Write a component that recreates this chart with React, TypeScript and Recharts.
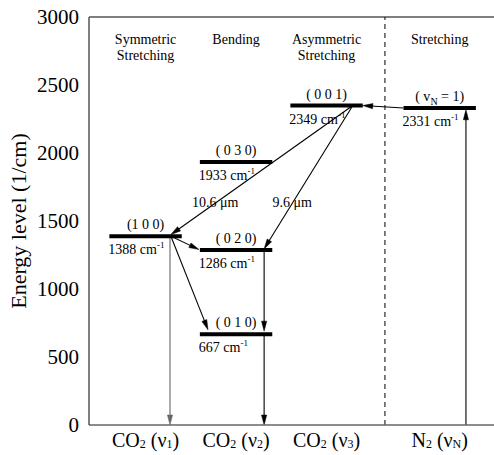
import React from 'react';
import { ComposedChart, XAxis, YAxis, ReferenceLine, ReferenceDot, Scatter } from 'recharts';

const FONT = 'Liberation Serif';

// Columns (x categories)
const columnPositions = [1, 2, 3, 4.25];
const columnMolecules = ['CO', 'CO', 'CO', 'N'];
const columnModes = ['1', '2', '3', 'N'];
const columnHeaders = [['Symmetric', 'Stretching'], ['Bending'], ['Asymmetric', 'Stretching'], ['Stretching']];

// Energy axis
const energyTicks = [0, 500, 1000, 1500, 2000, 2500, 3000];

// Energy levels
const levelColumn = [1, 2, 2, 2, 3, 4.25];
const levelEnergy = [1388, 1286, 667, 1933, 2349, 2331];
const levelState = ['(1 0 0)', '( 0 2 0)', '( 0 1 0)', '( 0 3 0)', '( 0 0 1)', 'vN'];
const levelHalfWidth = 0.4;

// Transitions (arrows)
const transFromX = [3.85, 3.29, 3.29, 1.28, 1.28, 1.27, 2.31, 2.31, 4.54];
const transFromY = [2331, 2349, 2349, 1388, 1388, 1388, 1286, 667, 0];
const transToX = [3.4, 1.28, 2.31, 1.59, 1.69, 1.27, 2.31, 2.31, 4.54];
const transToY = [2349, 1400, 1295, 1290, 700, 0, 690, 0, 2318];
const transGray = [false, false, false, false, false, true, false, false, false];

// Laser wavelength labels
const laserLabels = ['10.6 μm', '9.6 μm'];
const laserLabelX = [1.77, 2.62];
const laserLabelY = [1600, 1600];

// Separator between CO2 and N2
const separatorX = 3.645;

const levelData = levelColumn.map((c, i) => ({ x: c, y: levelEnergy[i] }));

const XTick = (props: any) => {
  const { x, y, payload } = props;
  const i = columnPositions.indexOf(payload.value);
  if (i < 0) return null;
  return (
    <text x={x} y={y + 14} textAnchor="middle" fontFamily={FONT} fontSize={20} fill="#000">
      {columnMolecules[i]}
      <tspan fontSize={12} dy={1}>2</tspan>
      <tspan dy={-1}> (ν</tspan>
      <tspan fontSize={12} dy={1}>{columnModes[i]}</tspan>
      <tspan dy={-1}>)</tspan>
    </text>
  );
};

const makeLevelShape = (i: number) => (p: any) => {
  const { x1, y1, x2, y2 } = p;
  const cx = (x1 + x2) / 2;
  const state = levelState[i];
  return (
    <g>
      <line x1={x1} y1={y1} x2={x2} y2={y2} stroke="#000" strokeWidth={4} />
      <text x={cx} y={y1 - 7} textAnchor="middle" fontFamily={FONT} fontSize={14} fill="#000">
        {state === 'vN' ? (
          <>
            {'( v'}
            <tspan fontSize={10} dy={4}>N</tspan>
            <tspan dy={-4}>{' = 1)'}</tspan>
          </>
        ) : (
          state
        )}
      </text>
      <text x={x1 - 1} y={y1 + 18} textAnchor="start" fontFamily={FONT} fontSize={14} fill="#000">
        {levelEnergy[i]} cm
        <tspan fontSize={9} dy={-6}>-1</tspan>
      </text>
    </g>
  );
};

const makeArrowShape = (color: string) => (p: any) => {
  const { x1, y1, x2, y2 } = p;
  const dx = x2 - x1;
  const dy = y2 - y1;
  const len = Math.hypot(dx, dy) || 1;
  const ux = dx / len;
  const uy = dy / len;
  const L = 10;
  const W = 2.6;
  const bx = x2 - ux * L;
  const by = y2 - uy * L;
  const pts = `${x2},${y2} ${bx - uy * W},${by + ux * W} ${bx + uy * W},${by - ux * W}`;
  return (
    <g>
      <line x1={x1} y1={y1} x2={bx + ux * 2} y2={by + uy * 2} stroke={color} strokeWidth={1.1} />
      <polygon points={pts} fill={color} stroke={color} strokeWidth={0.5} />
    </g>
  );
};

const makeHeaderShape = (i: number) => (p: any) => {
  const { cx, cy } = p;
  return (
    <g>
      {columnHeaders[i].map((line, k) => (
        <text key={k} x={cx} y={cy + 27 + k * 16} textAnchor="middle" fontFamily={FONT} fontSize={14} fill="#000">
          {line}
        </text>
      ))}
    </g>
  );
};

const makeLaserShape = (i: number) => (p: any) => {
  const { cx, cy } = p;
  return (
    <text x={cx} y={cy} textAnchor="middle" fontFamily={FONT} fontSize={14} fill="#000">
      {laserLabels[i]}
    </text>
  );
};

const YLabel = (props: any) => {
  const vb = props.viewBox || { x: 0, y: 17, width: 89, height: 408 };
  const cx = vb.x + 18;
  const cy = vb.y + vb.height / 2;
  return (
    <text
      x={cx}
      y={cy}
      transform={`rotate(-90 ${cx} ${cy})`}
      textAnchor="middle"
      dominantBaseline="central"
      fontFamily={FONT}
      fontSize={22}
      fill="#000"
    >
      Energy level (1/cm)
    </text>
  );
};

const YTick = (props: any) => {
  const { x, y, payload } = props;
  return (
    <text x={x} y={y} dy={7} textAnchor="end" fontFamily={FONT} fontSize={21} fill="#000">
      {payload.value}
    </text>
  );
};

export default function App() {
  return (
    <div style={{ position: 'absolute', left: 0, top: 0, background: '#fff' }}>
      <ComposedChart width={494} height={455} margin={{ top: 17, right: 0, bottom: 0, left: 0 }} data={levelData}>
        <XAxis
          type="number"
          dataKey="x"
          domain={[0.375, 4.85]}
          ticks={columnPositions}
          interval={0}
          tick={<XTick />}
          tickLine={false}
          axisLine={{ stroke: '#666', strokeWidth: 1.5 }}
          height={30}
          allowDataOverflow
        />
        <YAxis
          type="number"
          domain={[0, 3000]}
          ticks={energyTicks}
          interval={0}
          width={89}
          tickLine={false}
          tickMargin={4}
          axisLine={{ stroke: '#555', strokeWidth: 1.5 }}
          tick={<YTick />}
          label={<YLabel />}
          allowDataOverflow
        />
        <ReferenceLine y={3000} stroke="#555" strokeWidth={1.5} />
        <ReferenceLine x={separatorX} stroke="#000" strokeWidth={1} strokeDasharray="5 4" />
        {transFromX.map((fx, i) => (
          <ReferenceLine
            key={`t${i}`}
            segment={[
              { x: fx, y: transFromY[i] },
              { x: transToX[i], y: transToY[i] },
            ]}
            shape={makeArrowShape(transGray[i] ? '#666' : '#000')}
          />
        ))}
        {levelColumn.map((c, i) => (
          <ReferenceLine
            key={`l${i}`}
            segment={[
              { x: c - levelHalfWidth, y: levelEnergy[i] },
              { x: c + levelHalfWidth, y: levelEnergy[i] },
            ]}
            shape={makeLevelShape(i)}
          />
        ))}
        {columnPositions.map((c, i) => (
          <ReferenceDot key={`h${i}`} x={c} y={3000} r={0} shape={makeHeaderShape(i)} />
        ))}
        {laserLabels.map((_, i) => (
          <ReferenceDot key={`w${i}`} x={laserLabelX[i]} y={laserLabelY[i]} r={0} shape={makeLaserShape(i)} />
        ))}
        <Scatter dataKey="y" isAnimationActive={false} shape={() => <g />} />
      </ComposedChart>
    </div>
  );
}
